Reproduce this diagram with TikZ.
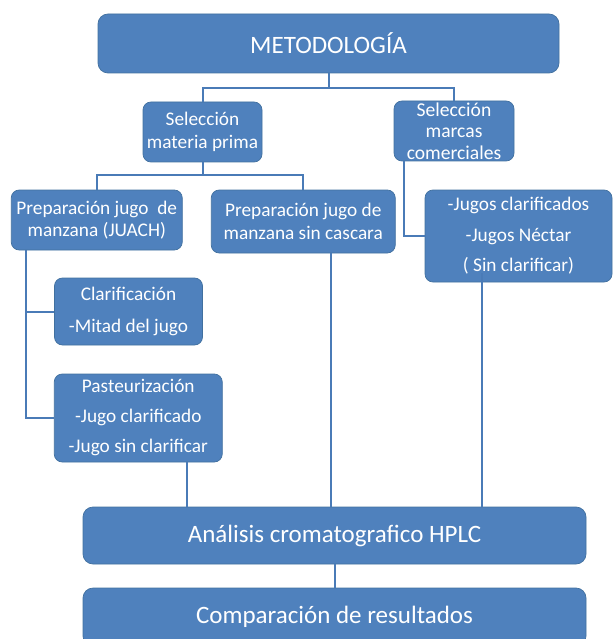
\documentclass[tikz,border=0pt]{standalone}
\usepackage{fontspec}
\setmainfont{Carlito}
\definecolor{boxfill}{HTML}{4F81BD}
\definecolor{boxline}{HTML}{41709F}
\definecolor{connline}{HTML}{4A7BB7}
\begin{document}
\begin{tikzpicture}[x=1pt,y=-1pt,
  box/.style={draw=boxline, line width=0.7pt, fill=boxfill, text=white,
    rounded corners=8pt, align=center, inner sep=0pt, font=\fontsize{19.3}{22.5}\selectfont},
  bigbox/.style={box, rounded corners=10pt, font=\fontsize{25}{30}\selectfont},
  conn/.style={draw=connline, line width=2pt}]
\useasboundingbox (0,0) rectangle (614,639);
\begin{scope}
\clip (0,0) rectangle (614,639);
% boxes
\node[bigbox, minimum width=461pt, minimum height=59pt] (meto) at (328.5,43.5) {METODOLOGÍA};
\node[box, minimum width=119pt, minimum height=60pt, font=\fontsize{19.3}{23}\selectfont] (selmp) at (202.5,132) {Selección\\materia prima};
\node[box, minimum width=120pt, minimum height=60pt, font=\fontsize{19.6}{21.5}\selectfont] (selmc) at (454,131) {Selección\\marcas\\comerciales};
\node[box, minimum width=171pt, minimum height=60pt] (juach) at (96.75,220) {Preparación jugo\ \ de\\manzana (JUACH)};
\node[box, minimum width=184pt, minimum height=63pt] (sinc) at (303.25,221.5) {Preparación jugo de\\manzana sin cascara};
\node[box, minimum width=187pt, minimum height=92pt] (jugos) at (518.5,236) {-Jugos clarificados\\[8pt]-Jugos Néctar\\[8pt]( Sin clarificar)};
\node[box, minimum width=148pt, minimum height=67pt] (clar) at (128.5,311.5) {Clarificación\\[9pt]-Mitad del jugo};
\node[box, minimum width=168pt, minimum height=88pt] (past) at (138.25,418) {Pasteurización\\[7.5pt]-Jugo clarificado\\[7.5pt]-Jugo sin clarificar};
\node[bigbox, minimum width=503pt, minimum height=57pt] (hplc) at (334.5,535.5) {Análisis cromatografico HPLC};
\node[bigbox, minimum width=503pt, minimum height=58pt] (comp) at (334.5,617) {Comparación de resultados};
% connectors
\coordinate (j1) at ([yshift=-15pt]meto.south);
\draw[conn] (meto.south) -- (j1) -| (selmp.north);
\draw[conn] (j1) -| (selmc.north);
\coordinate (j2) at ([yshift=-13pt]selmp.south);
\draw[conn] (selmp.south) -- (j2) -| (juach.north);
\draw[conn] (j2) -| (sinc.north);
\draw[conn] ([xshift=-50pt]selmc.south) |- (jugos.west);
\coordinate (j3) at ([xshift=15pt]juach.south west);
\draw[conn] (j3) |- (clar.west);
\draw[conn] (j3) |- (past.west);
\draw[conn] ([xshift=49pt]past.south) -- ([xshift=49pt]past.south |- hplc.north);
\draw[conn] ([xshift=28pt]sinc.south) -- ([xshift=28pt]sinc.south |- hplc.north);
\draw[conn] ([xshift=-37pt,yshift=9pt]jugos.south) -- ([xshift=-37pt]jugos.south |- hplc.north);
\draw[conn] (hplc.south) -- (comp.north);
\end{scope}
\end{tikzpicture}
\end{document}
